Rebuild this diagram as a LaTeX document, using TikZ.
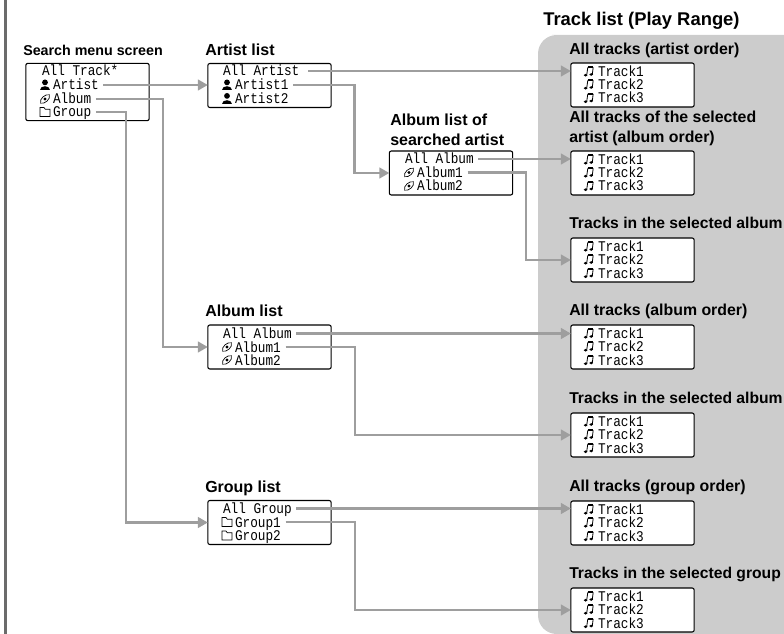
\documentclass[tikz,border=0pt]{standalone}
\usepackage{fontspec}
\usepackage{xcolor}
\usetikzlibrary{arrows.meta}
\setmainfont{Liberation Sans}
\newfontfamily\lcdfont[FakeStretch=0.86]{Liberation Mono}
\definecolor{panelgray}{gray}{0.80}
\definecolor{linkgray}{gray}{0.62}
\definecolor{bargray}{gray}{0.42}
\tikzset{
	listbox/.style={draw=black, fill=white, line width=0.8pt, rounded corners=1.5pt, minimum width=92.5pt, minimum height=33pt, inner sep=0pt, outer sep=0pt},
	rowtext/.style={anchor=west, inner sep=0pt, outer sep=0pt, text height=7.5pt, text depth=0pt, font=\lcdfont\fontsize{11.1}{11}\selectfont},
	heading/.style={anchor=west, inner sep=0pt, align=left, font=\bfseries\fontsize{12}{15}\selectfont},
	link/.style={draw=linkgray, line width=1.8pt, shorten <=3.5pt, -{Triangle[length=7.5pt,width=8pt]}},
	personicon/.pic={
		\fill (0,-2.6) circle (2.9);
		\fill (-5,5.5) .. controls (-5,0.5) and (5,0.5) .. (5,5.5) -- cycle;
	},
	discicon/.pic={
		\draw[line width=0.5pt] (-4.4,4.2) .. controls (-6,0) and (0.5,-5.5) .. (4.4,-4.2) .. controls (6,0) and (-0.5,5.5) .. (-4.4,4.2) -- cycle;
		\fill (0,0) circle (1.6);
	},
	foldericon/.pic={
		\draw[line width=0.5pt] (-5,4.5) -- (-5,-4.5) -- (-1,-4.5) -- (0.2,-2.8) -- (5,-2.8) -- (5,4.5) -- cycle;
	},
	noteicon/.pic={
		\draw[line width=0.6pt] (-2.3,3.5) -- (-1.2,-4.2);
		\draw[line width=0.6pt] (3.3,2.8) -- (4.2,-4.2);
		\draw[line width=1.3pt] (-1.2,-4.2) -- (4.2,-4.2);
		\fill (-3.4,3.7) ellipse [x radius=1.9, y radius=1.4];
		\fill (2.2,3) ellipse [x radius=1.9, y radius=1.4];
	},
}
\begin{document}
\begin{tikzpicture}[x=0.75pt, y=-0.75pt]
	\useasboundingbox (0,0) rectangle (784,634);
	\fill[bargray] (3.5,0) rectangle (7,634);
	\fill[panelgray] (784,634) -- (784,35) -- (552,35) [rounded corners=14] -- (538,35) -- (538,634) -- (640,634) [sharp corners] -- cycle;

	% left side
	\node[heading, font=\bfseries\fontsize{10.7}{13}\selectfont] (searchhead) at (23,50) {Search menu screen};
	\node[listbox, minimum height=43pt] (searchmenu) at (87.5,92) {};
	\node[rowtext] (alltrack) at (42,71) {All Track*};
	\node[rowtext] (searchartist) at (53,85) {Artist};
	\node[rowtext] (searchalbum) at (53,99) {Album};
	\node[rowtext] (searchgroup) at (53,112) {Group};
	\pic at ([xshift=-6pt]searchartist.west) {personicon};
	\pic at ([xshift=-6pt]searchalbum.west) {discicon};
	\pic at ([xshift=-6pt]searchgroup.west) {foldericon};

	% artist list
	\node[heading] (artisthead) at (205,50) {Artist list};
	\node[listbox] (artistlist) at (269.5,85.5) {};
	\node[rowtext] (allartist) at (223,71) {All Artist};
	\node[rowtext] (artistone) at (235,85) {Artist1};
	\node[rowtext] (artisttwo) at (235,98.5) {Artist2};
	\pic at ([xshift=-6pt]artistone.west) {personicon};
	\pic at ([xshift=-6pt]artisttwo.west) {personicon};

	% album list of searched artist
	\node[heading] (searchedhead) at (390,130) {Album list of\\searched artist};
	\node[listbox] (searchedlist) at (451,173) {};
	\node[rowtext] (searchedall) at (405,159) {All Album};
	\node[rowtext] (searchedone) at (417,172.5) {Album1};
	\node[rowtext] (searchedtwo) at (417,186) {Album2};
	\pic at ([xshift=-6pt]searchedone.west) {discicon};
	\pic at ([xshift=-6pt]searchedtwo.west) {discicon};

	% album list
	\node[heading] (albumhead) at (205,311) {Album list};
	\node[listbox] (albumlist) at (269.5,347) {};
	\node[rowtext] (albumall) at (223,333.5) {All Album};
	\node[rowtext] (albumone) at (235,347) {Album1};
	\node[rowtext] (albumtwo) at (235,360) {Album2};
	\pic at ([xshift=-6pt]albumone.west) {discicon};
	\pic at ([xshift=-6pt]albumtwo.west) {discicon};

	% group list
	\node[heading] (grouphead) at (205,488) {Group list};
	\node[listbox] (grouplist) at (269.5,522.5) {};
	\node[rowtext] (groupall) at (223,508.5) {All Group};
	\node[rowtext] (groupone) at (235,522) {Group1};
	\node[rowtext] (grouptwo) at (235,535.5) {Group2};
	\pic at ([xshift=-6pt]groupone.west) {foldericon};
	\pic at ([xshift=-6pt]grouptwo.west) {foldericon};

	% track lists
	\node[heading, font=\bfseries\fontsize{13.8}{16}\selectfont] (trackhead) at (543,21) {Track list (Play Range)};
	\foreach \id/\y/\headY/\size/\title in {a/85/50/11.9/{All tracks (artist order)},
		b/173/128/11.9/{All tracks of the selected\\artist (album order)},
		c/260/223/11.75/{Tracks in the selected album},
		d/347/311/11.9/{All tracks (album order)},
		e/435/398/11.75/{Tracks in the selected album},
		f/523/487/11.9/{All tracks (group order)},
		g/610/574/11.75/{Tracks in the selected group}}{
		\node[heading, font=\bfseries\fontsize{\size}{15}\selectfont] (title\id) at (569,\headY) {\title};
		\node[listbox] (box\id) at (632.5,\y) {};
		\foreach \n/\dy in {1/-13.5,2/-0.5,3/13}{
			\node[rowtext] (track\id\n) at (598,\y+\dy) {Track\n};
			\pic at ([xshift=-6.75pt]track\id\n.west) {noteicon};
		}
	}

	% connectors
	\draw[link] (searchartist.east) -- (searchartist.east -| artistlist.west);
	\draw[link] (searchalbum.east) -- ++(72,0) |- (albumlist.west);
	\draw[link] (searchgroup.east) -- ++(35,0) |- (grouplist.west);
	\draw[link, shorten <=6.5pt] (allartist.east) -- (allartist.east -| boxa.west);
	\draw[link] (artistone.east) -- ++(66,0) |- (searchedlist.west);
	\draw[link] (searchedall.east) -- (searchedall.east -| boxb.west);
	\draw[link] (searchedone.east) -- ++(63,0) |- (boxc.west);
	\draw[link] (albumall.east) -- (albumall.east -| boxd.west);
	\draw[link] (albumone.east) -- ++(74,0) |- (boxe.west);
	\draw[link] (groupall.east) -- (groupall.east -| boxf.west);
	\draw[link] (groupone.east) -- ++(74,0) |- (boxg.west);
\end{tikzpicture}
\end{document}
